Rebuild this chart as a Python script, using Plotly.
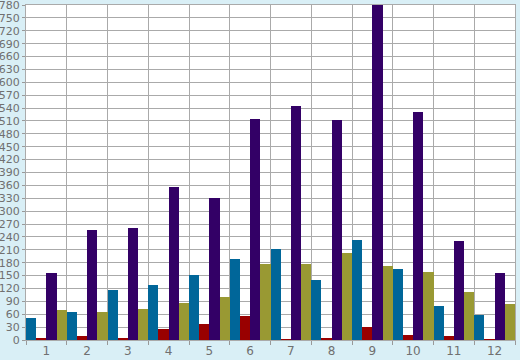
import plotly.graph_objects as go

categories = [str(i) for i in range(1, 13)]
blue_vals = [51, 65, 116, 128, 151, 189, 212, 140, 233, 165, 79, 58]
red_vals = [3, 9, 5, 26, 37, 56, 1, 3, 30, 12, 9, 1]
purple_vals = [156, 256, 261, 356, 331, 515, 545, 512, 780, 531, 230, 156]
olive_vals = [70, 65, 72, 86, 100, 177, 177, 203, 172, 158, 112, 84]

series = [
    ("A", blue_vals, "#006699"),
    ("B", red_vals, "#990000"),
    ("C", purple_vals, "#330066"),
    ("D", olive_vals, "#999933"),
]

fig = go.Figure()
for name, vals, col in series:
    fig.add_trace(go.Bar(x=categories, y=vals, name=name, marker=dict(color=col, line=dict(width=0))))

fig.update_layout(
    width=520, height=360,
    margin=dict(l=26, r=5, t=5, b=20, autoexpand=False),
    paper_bgcolor="#d9eff6",
    plot_bgcolor="#ffffff",
    barmode="group", bargap=0, bargroupgap=0,
    showlegend=False,
    font=dict(family="DejaVu Sans", size=11, color="#707070"),
)
fig.update_xaxes(
    type="category", tickson="boundaries", ticks="outside", ticklen=4, tickcolor="#999999",
    showgrid=True, gridcolor="#aaaaaa", gridwidth=1,
    showline=True, linecolor="#aaaaaa", mirror=True, automargin=False,
    tickfont=dict(size=12, color="#707070"),
)
fig.update_yaxes(
    range=[0, 780], dtick=30, ticks="outside", ticklen=3, tickcolor="#999999",
    showgrid=True, gridcolor="#aaaaaa", gridwidth=1, zeroline=False,
    showline=True, linecolor="#aaaaaa", mirror=True, automargin=False,
    ticklabeloverflow="allow",
    tickfont=dict(size=11, color="#707070"), ticklabelstandoff=0,
)
fig.write_html("out.html")
